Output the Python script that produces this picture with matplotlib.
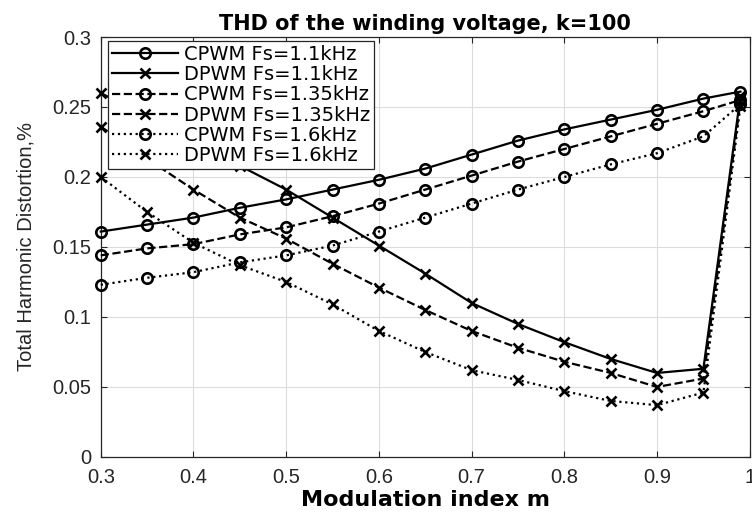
import matplotlib
matplotlib.use("Agg")
import matplotlib.pyplot as plt

plt.rcParams['font.family'] = ['Liberation Sans', 'DejaVu Sans']

m = [0.3, 0.35, 0.4, 0.45, 0.5, 0.55, 0.6, 0.65, 0.7, 0.75, 0.8, 0.85, 0.9, 0.95, 0.99]

cpwm_11 = [0.161, 0.166, 0.171, 0.178, 0.184, 0.191, 0.198, 0.206, 0.216, 0.226, 0.234, 0.241, 0.248, 0.256, 0.261]
dpwm_11 = [0.260, 0.243, 0.225, 0.208, 0.191, 0.171, 0.151, 0.131, 0.110, 0.095, 0.082, 0.070, 0.060, 0.063, 0.258]
cpwm_135 = [0.144, 0.149, 0.152, 0.159, 0.164, 0.172, 0.181, 0.191, 0.201, 0.211, 0.220, 0.229, 0.238, 0.247, 0.255]
dpwm_135 = [0.236, 0.213, 0.191, 0.171, 0.156, 0.138, 0.121, 0.105, 0.090, 0.078, 0.068, 0.060, 0.050, 0.056, 0.254]
cpwm_16 = [0.123, 0.128, 0.132, 0.139, 0.144, 0.151, 0.161, 0.171, 0.181, 0.191, 0.200, 0.209, 0.217, 0.229, 0.252]
dpwm_16 = [0.200, 0.175, 0.153, 0.137, 0.125, 0.109, 0.090, 0.075, 0.062, 0.055, 0.047, 0.040, 0.037, 0.046, 0.251]

series = [
    ("CPWM Fs=1.1kHz", cpwm_11, "-", "o"),
    ("DPWM Fs=1.1kHz", dpwm_11, "-", "x"),
    ("CPWM Fs=1.35kHz", cpwm_135, "--", "o"),
    ("DPWM Fs=1.35kHz", dpwm_135, "--", "x"),
    ("CPWM Fs=1.6kHz", cpwm_16, ":", "o"),
    ("DPWM Fs=1.6kHz", dpwm_16, ":", "x"),
]

fig = plt.figure(figsize=(7.52, 5.14), dpi=100)
ax = fig.add_axes([0.134, 0.111, 0.863, 0.817])

for label, vals, ls, mk in series:
    ax.plot(m, vals, color="black", linestyle=ls, linewidth=1.6, marker=mk,
            markersize=7.5, markerfacecolor="none", markeredgewidth=1.9,
            label=label, clip_on=False, zorder=3)

ax.set_xlim(0.3, 1.0)
ax.set_ylim(0, 0.3)
ax.set_xticks([0.3, 0.4, 0.5, 0.6, 0.7, 0.8, 0.9, 1.0])
ax.set_xticklabels(["0.3", "0.4", "0.5", "0.6", "0.7", "0.8", "0.9", "1"])
ax.set_yticks([0, 0.05, 0.1, 0.15, 0.2, 0.25, 0.3])
ax.set_yticklabels(["0", "0.05", "0.1", "0.15", "0.2", "0.25", "0.3"])
ax.grid(True, color="#dcdcdc", linewidth=0.8)
ax.set_axisbelow(True)
ax.tick_params(direction="in", top=True, right=True, length=4, width=0.8,
               colors="#262626", labelsize=14.5, labelcolor="#262626")
ax.tick_params(axis="x", pad=8)
ax.tick_params(axis="y", pad=7)
for sp in ax.spines.values():
    sp.set_color("#262626")
    sp.set_linewidth(0.9)

ax.set_title("THD of the winding voltage, k=100", fontsize=15, fontweight="bold",
             family="DejaVu Sans", pad=5)
ax.set_xlabel("Modulation index m", fontsize=16, fontweight="bold",
              family="DejaVu Sans", labelpad=2)
ax.set_ylabel("Total Harmonic Distortion,%", fontsize=14.5, labelpad=12, color="#262626")

leg = ax.legend(loc="upper left", bbox_to_anchor=(0.011, 0.99),
                prop={"family": "DejaVu Sans", "size": 14},
                frameon=True, fancybox=False, framealpha=1, edgecolor="#262626",
                handlelength=3.4, handletextpad=0.3, labelspacing=0.06,
                borderpad=0.2, borderaxespad=0)
leg.get_frame().set_linewidth(0.9)
leg.set_zorder(5)

fig.savefig("out.png", dpi=100)
